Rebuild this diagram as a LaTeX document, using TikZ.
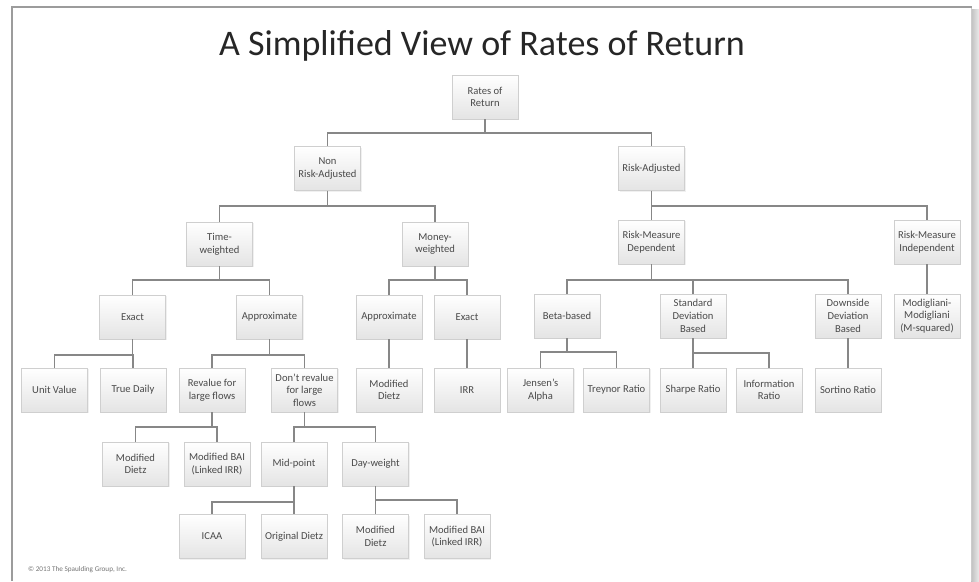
\documentclass[tikz,border=0pt]{standalone}
\usepackage{fontspec}
\setmainfont{Carlito}
\usetikzlibrary{shadows}
\definecolor{boxline}{HTML}{CFCFCF}
\definecolor{boxbot}{HTML}{E4E4E4}
\definecolor{boxtext}{HTML}{4A4A4A}
\definecolor{connc}{HTML}{878787}
\definecolor{framec}{HTML}{9C9C9C}
\definecolor{titlec}{HTML}{262626}
\newcommand\tconn[3]{\draw[conn] (#1.south) |- (#2.north |- 0,#3) -- (#2.north);}
\begin{document}
\begin{tikzpicture}[x=1pt,y=-1pt,
  box/.style={rectangle, draw=boxline, line width=0.7pt, top color=white, bottom color=boxbot,
    minimum width=66pt, minimum height=44pt, inner sep=1pt, align=center,
    font=\fontsize{10.6}{12.7}\selectfont, text=boxtext,
    drop shadow={opacity=0.12, shadow xshift=1pt, shadow yshift=-1pt}},
  conn/.style={draw=connc, line width=1.5pt}]
\useasboundingbox (0,0) rectangle (979,581);
% slide frame
\shade[left color=black!25, right color=black!8] (971,9) rectangle (979,581);
\draw[framec, line width=2pt] (12,581) -- (12,7) -- (972,7);
\draw[black!20, line width=0.6pt] (971,8) -- (971,581);
% title
\node (title) [anchor=base, font=\fontsize{36}{40}\selectfont, text=titlec] at (482,55) {A Simplified View of Rates of Return};
% level 1
\node[box] (rr) at (485,97) {Rates of\\Return};
% level 2
\node[box] (nra) at (327.5,168.5) {Non\\Risk-Adjusted};
\node[box] (ra) at (651.5,168.5) {Risk-Adjusted};
% level 3
\node[box] (tw) at (219.5,244) {Time-\\weighted};
\node[box] (mw) at (435,244) {Money-\\weighted};
\node[box] (rmd) at (651.5,242) {Risk-Measure\\Dependent};
\node[box] (rmi) at (927,242) {Risk-Measure\\Independent};
% level 4
\node[box] (ex) at (132.5,317) {Exact};
\node[box] (ap) at (269.5,317) {Approximate};
\node[box] (map) at (389,317) {Approximate};
\node[box] (mex) at (467,317) {Exact};
\node[box] (bb) at (567,316) {Beta-based};
\node[box] (sd) at (693,316) {Standard\\Deviation\\Based};
\node[box] (dd) at (848,316) {Downside\\Deviation\\Based};
\node[box] (mm) at (927,316) {Modigliani-\\Modigliani\\(M-squared)};
% level 5
\node[box] (uv) at (54.5,390) {Unit Value};
\node[box] (td) at (133,390) {True Daily};
\node[box] (rv) at (212,390) {Revalue for\\large flows};
\node[box] (dr) at (304.5,390) {Don't revalue\\for large\\flows};
\node[box] (md1) at (389,390) {Modified\\Dietz};
\node[box] (irr) at (467,390) {IRR};
\node[box] (ja) at (540.5,390) {Jensen's\\Alpha};
\node[box] (tr) at (616.5,390) {Treynor Ratio};
\node[box] (sr) at (693,390) {Sharpe Ratio};
\node[box] (ir) at (769,390) {Information\\Ratio};
\node[box] (sor) at (848,390) {Sortino Ratio};
% level 6
\node[box] (md2) at (135.5,464) {Modified\\Dietz};
\node[box] (bai1) at (217,464) {Modified BAI\\(Linked IRR)};
\node[box] (mp) at (294,464) {Mid-point};
\node[box] (dw) at (375.5,464) {Day-weight};
% level 7
\node[box] (icaa) at (212,536.5) {ICAA};
\node[box] (od) at (294,536.5) {Original Dietz};
\node[box] (md3) at (375.5,536.5) {Modified\\Dietz};
\node[box] (bai2) at (457,536.5) {Modified BAI\\(Linked IRR)};
% copyright
\node (copy) [anchor=base west, font=\fontsize{7.2}{8}\selectfont, text=black!55, inner sep=0pt] at (28,571) {© 2013 The Spaulding Group, Inc.};
% connectors
\tconn{rr}{nra}{133}
\tconn{rr}{ra}{133}
\tconn{nra}{tw}{206}
\tconn{nra}{mw}{206}
\tconn{ra}{rmd}{206}
\tconn{ra}{rmi}{206}
\tconn{tw}{ex}{280}
\tconn{tw}{ap}{280}
\tconn{mw}{map}{280}
\tconn{mw}{mex}{280}
\tconn{rmd}{bb}{280}
\tconn{rmd}{sd}{280}
\tconn{rmd}{dd}{280}
\draw[conn] (rmi.south) -- (mm.north);
\tconn{ex}{uv}{355}
\tconn{ex}{td}{355}
\tconn{ap}{rv}{355}
\tconn{ap}{dr}{355}
\draw[conn] (map.south) -- (md1.north);
\draw[conn] (mex.south) -- (irr.north);
\tconn{bb}{ja}{352}
\tconn{bb}{tr}{352}
\tconn{sd}{sr}{353}
\tconn{sd}{ir}{353}
\draw[conn] (dd.south) -- (sor.north);
\tconn{rv}{md2}{427}
\tconn{rv}{bai1}{427}
\tconn{dr}{mp}{427}
\tconn{dr}{dw}{427}
\tconn{mp}{icaa}{502}
\tconn{mp}{od}{502}
\tconn{dw}{md3}{500}
\tconn{dw}{bai2}{500}
\end{tikzpicture}
\end{document}
